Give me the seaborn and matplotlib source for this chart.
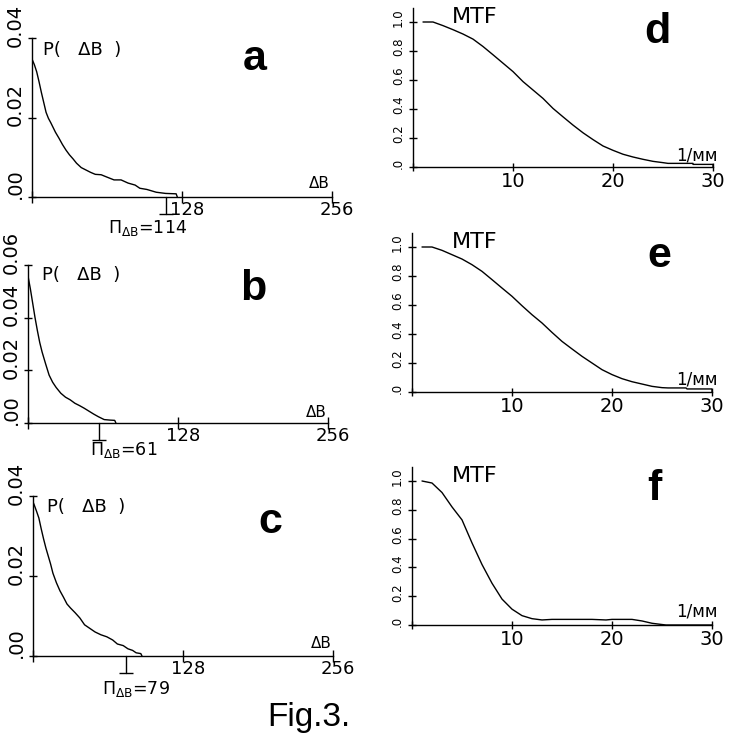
import matplotlib
matplotlib.use('Agg')
import matplotlib.pyplot as plt
import matplotlib.transforms as mtransforms
import seaborn as sns

# ---------------- data ----------------
a_db = [0, 2, 4, 6, 8, 10, 12, 14, 16, 18, 20, 23, 26, 29, 32, 35, 38, 42, 46, 50,
        54, 59, 64, 70, 76, 82, 88, 92, 98, 106, 114, 123, 124]
a_p = [0.0347, 0.0333, 0.0315, 0.0290, 0.0263, 0.0238, 0.0213, 0.0198, 0.0187, 0.0175,
       0.0163, 0.0148, 0.0132, 0.0118, 0.0106, 0.0096, 0.0085, 0.0074, 0.0068, 0.0062,
       0.0057, 0.0056, 0.0050, 0.0043, 0.0043, 0.0035, 0.0030, 0.0022, 0.0019, 0.0012,
       0.0009, 0.0008, 0.0]

b_db = [0, 2, 4, 6, 8, 10, 12, 15, 18, 21, 24, 28, 32, 36, 40, 44, 48, 52, 56, 60,
        65, 70, 74, 75]
b_p = [0.0558, 0.0510, 0.0455, 0.0400, 0.0351, 0.0306, 0.0270, 0.0225, 0.0182, 0.0155,
       0.0135, 0.0113, 0.0098, 0.0088, 0.0075, 0.0066, 0.0056, 0.0045, 0.0034, 0.0024,
       0.0013, 0.0011, 0.0010, 0.0]

c_db = [0, 1, 3, 5, 7, 9, 11, 13, 15, 17, 20, 23, 26, 29, 32, 36, 40, 44, 48, 53,
        58, 63, 68, 72, 77, 81, 85, 88, 92, 93]
c_p = [0.0385, 0.0378, 0.0362, 0.0345, 0.0318, 0.0293, 0.0270, 0.0250, 0.0230, 0.0207,
       0.0183, 0.0163, 0.0147, 0.0130, 0.0120, 0.0108, 0.0095, 0.0078, 0.0070, 0.0060,
       0.0053, 0.0048, 0.0040, 0.0030, 0.0026, 0.0018, 0.0014, 0.0008, 0.0006, 0.0]

thresholds = [114, 61, 79]
p_ymax = [0.04, 0.06, 0.04]
p_yticks = [[0, 0.02, 0.04], [0, 0.02, 0.04, 0.06], [0, 0.02, 0.04]]
p_yticklabels = [['.00', '0.02', '0.04'], ['.00', '0.02', '0.04', '0.06'],
                 ['.00', '0.02', '0.04']]
p_xticks = [0, 128, 256]
p_xticklabels = ['', '128', '256']

d_f = [1, 2, 3, 4, 5, 6, 7, 8, 9, 10, 11, 12, 13, 14, 15, 16, 17, 18, 19, 20,
       21, 22, 23, 24, 25, 25.5, 28, 28, 30, 30]
d_m = [1.0, 1.0, 0.975, 0.947, 0.917, 0.882, 0.831, 0.774, 0.716, 0.658, 0.589, 0.531,
       0.473, 0.404, 0.346, 0.289, 0.236, 0.189, 0.145, 0.115, 0.088, 0.069, 0.053,
       0.039, 0.030, 0.025, 0.025, 0.018, 0.018, 0.0]

e_f = [1, 2, 3, 4, 5, 6, 7, 8, 9, 10, 11, 12, 13, 14, 15, 16, 17, 18, 19, 20,
       21, 22, 23, 24, 25, 25.6, 27.4, 27.5, 30, 30]
e_m = [1.0, 1.0, 0.977, 0.947, 0.917, 0.878, 0.832, 0.775, 0.717, 0.660, 0.595, 0.533,
       0.476, 0.411, 0.349, 0.297, 0.246, 0.200, 0.154, 0.120, 0.092, 0.071, 0.055,
       0.039, 0.030, 0.028, 0.028, 0.021, 0.021, 0.0]

f_f = [1, 2, 3, 4, 5, 6, 7, 8, 9, 10, 11, 12, 13, 14, 18, 19.4, 20, 22, 23, 24,
       24.8, 25.4, 30]
f_m = [1.0, 0.986, 0.92, 0.82, 0.73, 0.57, 0.42, 0.29, 0.18, 0.11, 0.065, 0.044,
       0.035, 0.039, 0.039, 0.035, 0.039, 0.039, 0.028, 0.012, 0.005, 0.0, 0.0]

mtf_xticks = [0, 10, 20, 30]
mtf_xticklabels = ['', '10', '20', '30']
mtf_yticks = [0, 0.2, 0.4, 0.6, 0.8, 1.0]
mtf_yticklabels = ['.0', '0.2', '0.4', '0.6', '0.8', '1.0']

p_letters = ['a', 'b', 'c']
mtf_letters = ['d', 'e', 'f']
fig_title = 'Fig.3.'

# ---------------- style ----------------
sns.set_theme(style='white')
plt.rcParams['font.family'] = ['DejaVu Sans']
plt.rcParams['mathtext.fontset'] = 'dejavusans'
arial = ['Liberation Sans', 'DejaVu Sans']

W, H = 730, 750
fig = plt.figure(figsize=(W / 100, H / 100), dpi=100)
fig.patch.set_facecolor('white')


def rect(left, top, width, height):
    return [left / W, 1 - (top + height) / H, width / W, height / H]


def px(dx, dy):
    return mtransforms.ScaledTranslation(dx / 100, dy / 100, fig.dpi_scale_trans)


def style_axes(ax):
    ax.set_facecolor('none')
    for s in ['top', 'right']:
        ax.spines[s].set_visible(False)
    for s in ['left', 'bottom']:
        ax.spines[s].set_color('black')
        ax.spines[s].set_linewidth(1.0)


# P panels geometry (left, top, width, height) in pixels
p_rects = [(32, 38, 300, 159), (28, 265, 300, 158), (33, 496, 300, 160)]
p_data = [(a_db, a_p), (b_db, b_p), (c_db, c_p)]
letter_p_pos = [(255, 70), (253, 300), (270, 533)]
pi_pos = [(108, 233), (90, 455), (102, 694)]
plabel_pos = [(43, 55), (42, 280), (47, 512)]
dlabel_pos = [(330, 188), (327, 417), (332, 648)]

for i in range(3):
    l, t, w, h = p_rects[i]
    ax = fig.add_axes(rect(l, t, w, h))
    style_axes(ax)
    x, y = p_data[i]
    sns.lineplot(x=x, y=y, ax=ax, color='black', lw=1.0, sort=False, estimator=None)
    ax.set_xlim(0, 256)
    ax.set_ylim(0, p_ymax[i])
    ax.set_xticks(p_xticks)
    ax.set_xticklabels(p_xticklabels)
    ax.set_yticks(p_yticks[i])
    ax.set_yticklabels(p_yticklabels[i], rotation=90, va='center', ha='right',
                       fontsize=14)
    ax.tick_params(axis='x', direction='inout', length=8.6, width=1, pad=-1.6,
                   labelsize=13, colors='black', bottom=True)
    ax.tick_params(axis='y', direction='inout', length=5.8, width=1, pad=2,
                   colors='black', left=True)
    for lab in ax.get_yticklabels():
        lab.set_transform(lab.get_transform() + px(0, 13))
    for lab in ax.get_xticklabels():
        lab.set_transform(lab.get_transform() + px(5, 0))
    # threshold marker
    tr = mtransforms.blended_transform_factory(ax.transData, ax.transAxes)
    ymk = -17 / h
    ax.plot([thresholds[i], thresholds[i]], [0, ymk], color='black', lw=1,
            transform=tr, clip_on=False)
    ax.plot([thresholds[i]], [ymk], marker='_', ms=10, mew=1, color='black',
            transform=tr, clip_on=False)
    # texts
    fig.text(pi_pos[i][0] / W, 1 - pi_pos[i][1] / H,
             r'$\Pi_{\Delta \mathrm{B}}$=' + str(thresholds[i]),
             fontsize=12.5, ha='left', va='baseline', color='black')
    fig.text(plabel_pos[i][0] / W, 1 - plabel_pos[i][1] / H, 'P(   ΔB  )',
             fontsize=13, ha='left', va='baseline', color='black')
    fig.text(dlabel_pos[i][0] / W, 1 - dlabel_pos[i][1] / H, 'ΔB',
             fontsize=11, ha='right', va='baseline', color='black')
    fig.text(letter_p_pos[i][0] / W, 1 - letter_p_pos[i][1] / H, p_letters[i],
             fontsize=31, fontweight='bold', family=arial, ha='center',
             va='baseline', color='black')

# MTF panels
m_rects = [(413, 7.5, 300, 159.5), (412, 232.5, 300, 159.5), (412, 466.6, 300, 158.4)]
m_data = [(d_f, d_m), (e_f, e_m), (f_f, f_m)]
letter_m_pos = [(657, 43), (659, 267), (654, 500)]
mtf_pos = [(452, 23), (452, 248), (452, 482)]
unit_pos = [(718, 160), (718, 384), (718, 617)]

for i in range(3):
    l, t, w, h = m_rects[i]
    ax = fig.add_axes(rect(l, t, w, h))
    style_axes(ax)
    x, y = m_data[i]
    sns.lineplot(x=x, y=y, ax=ax, color='black', lw=1.0, sort=False, estimator=None)
    ax.set_xlim(0, 30)
    ax.set_ylim(0, 1.1)
    ax.set_xticks(mtf_xticks)
    ax.set_xticklabels(mtf_xticklabels)
    ax.set_yticks(mtf_yticks)
    ax.set_yticklabels(mtf_yticklabels, rotation=90, va='center', ha='right',
                       fontsize=8.5)
    ax.tick_params(axis='x', direction='inout', length=5.2, width=1, pad=1,
                   labelsize=14, colors='black', bottom=True)
    ax.tick_params(axis='y', direction='inout', length=5.8, width=1, pad=3,
                   colors='black', left=True)
    for lab in ax.get_yticklabels():
        lab.set_transform(lab.get_transform() + px(0, 4))
    fig.text(mtf_pos[i][0] / W, 1 - mtf_pos[i][1] / H, 'MTF',
             fontsize=16, ha='left', va='baseline', color='black')
    fig.text(unit_pos[i][0] / W, 1 - unit_pos[i][1] / H, '1/мм',
             fontsize=12, ha='right', va='baseline', color='black')
    fig.text(letter_m_pos[i][0] / W, 1 - letter_m_pos[i][1] / H, mtf_letters[i],
             fontsize=31, fontweight='bold', family=arial, ha='center',
             va='baseline', color='black')

fig.text(309 / W, 1 - 726 / H, fig_title, fontsize=24, family=arial,
         ha='center', va='baseline', color='black')

fig.savefig('out.png', dpi=100, facecolor='white')
